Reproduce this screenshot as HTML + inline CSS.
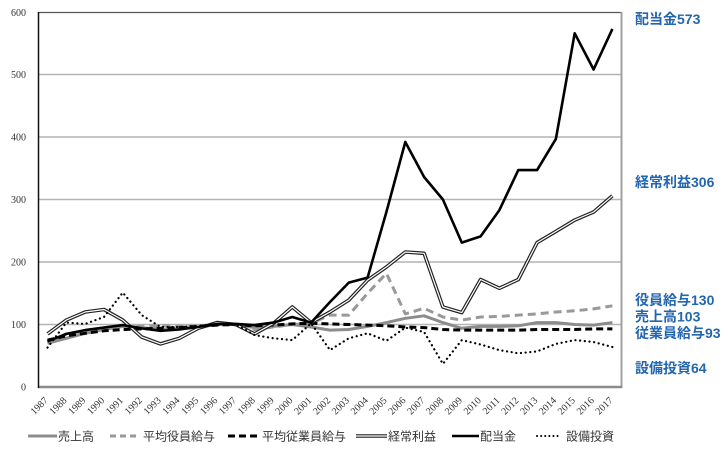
<!DOCTYPE html>
<html><head><meta charset="utf-8"><style>
html,body{margin:0;padding:0;background:#fff;}
svg{display:block;}
.yl{font-family:"Liberation Serif",serif;font-size:10px;fill:#333;}
.xl{font-family:"Liberation Serif",serif;font-size:10px;fill:#333;}
.lg{font-family:"Liberation Sans","Noto Sans CJK JP",sans-serif;font-size:12px;fill:#333;}
.rl{font-family:"Liberation Sans","Noto Sans CJK JP",sans-serif;font-size:14px;font-weight:bold;fill:#2366b0;}
</style></head><body>
<svg width="728" height="453" viewBox="0 0 728 453" xmlns="http://www.w3.org/2000/svg">
<rect width="728" height="453" fill="#fff"/>
<!-- gridlines -->
<g stroke="#b4b4b4" stroke-width="1.5">
<line x1="38.5" y1="324.5" x2="622" y2="324.5"/>
<line x1="38.5" y1="262" x2="622" y2="262"/>
<line x1="38.5" y1="199.5" x2="622" y2="199.5"/>
<line x1="38.5" y1="137" x2="622" y2="137"/>
<line x1="38.5" y1="74.5" x2="622" y2="74.5"/>
</g>
<!-- frame -->
<line x1="38.5" y1="12.5" x2="622" y2="12.5" stroke="#555" stroke-width="1.2"/>
<line x1="621.5" y1="12" x2="621.5" y2="388" stroke="#a0a0a0" stroke-width="2"/>
<line x1="38" y1="387" x2="622" y2="387" stroke="#8c8c8c" stroke-width="2.5"/>
<line x1="38.5" y1="12" x2="38.5" y2="388" stroke="#111" stroke-width="1.5"/>
<!-- y labels -->
<g class="yl" text-anchor="end">
<text x="26" y="16">600</text>
<text x="26" y="78">500</text>
<text x="26" y="140.5">400</text>
<text x="26" y="203">300</text>
<text x="26" y="265.5">200</text>
<text x="26" y="328">100</text>
<text x="26" y="390.5">0</text>
</g>
<!-- series -->
<g fill="none" stroke-linejoin="round">
<polyline stroke="#8c8c8c" stroke-width="3" points="47.5,343.3 66.3,338.3 85.2,333.3 104,329.5 122.8,326.4 141.7,327.6 160.5,329.5 179.3,328.9 198.1,327 217,324.5 235.8,324.5 254.6,327.6 273.5,326.4 292.3,324.5 311.1,327 330,330.1 348.8,329.5 367.6,326.4 386.4,322.6 405.3,318.3 424.1,315.8 442.9,322.6 461.8,328.3 480.6,326.4 499.4,326.4 518.3,325.8 537.1,322.6 555.9,322.6 574.7,324.5 593.6,325.1 612.4,322.6"/>
<polyline stroke="#999" stroke-width="3" stroke-dasharray="8,5" points="47.5,342 66.3,333.9 85.2,330.8 104,328.9 122.8,327 141.7,326.4 160.5,325.8 179.3,326.4 198.1,325.8 217,324.5 235.8,324.5 254.6,329.5 273.5,327 292.3,324.5 311.1,323.3 330,315.1 348.8,315.1 367.6,293.3 386.4,273.3 405.3,313.9 424.1,308.3 442.9,317 461.8,320.1 480.6,317 499.4,316.4 518.3,315.1 537.1,313.9 555.9,312 574.7,310.8 593.6,308.9 612.4,305.8"/>
<polyline stroke="#000" stroke-width="3" stroke-dasharray="7,4" points="47.5,340.1 66.3,335.8 85.2,333.3 104,330.8 122.8,329.5 141.7,328.9 160.5,328.3 179.3,327.6 198.1,326.4 217,325.1 235.8,324.5 254.6,325.8 273.5,325.1 292.3,323.9 311.1,323.3 330,323.9 348.8,324.5 367.6,325.1 386.4,325.8 405.3,327 424.1,327.6 442.9,329.5 461.8,330.1 480.6,330.1 499.4,330.1 518.3,330.1 537.1,329.5 555.9,329.5 574.7,329.5 593.6,328.9 612.4,328.9"/>
<polyline stroke="#222" stroke-width="3.6" points="47.5,333.9 66.3,320.1 85.2,312 104,309.5 122.8,320.1 141.7,337 160.5,343.9 179.3,338.3 198.1,328.3 217,322.6 235.8,324.5 254.6,333.9 273.5,323.3 292.3,307 311.1,322.6 330,312 348.8,300.1 367.6,280.1 386.4,267 405.3,252 424.1,253.3 442.9,307 461.8,312.6 480.6,279.5 499.4,288.3 518.3,279.5 537.1,242.6 555.9,231.4 574.7,220.1 593.6,212 612.4,195.8"/>
<polyline stroke="#fff" stroke-width="1.2" points="47.5,333.9 66.3,320.1 85.2,312 104,309.5 122.8,320.1 141.7,337 160.5,343.9 179.3,338.3 198.1,328.3 217,322.6 235.8,324.5 254.6,333.9 273.5,323.3 292.3,307 311.1,322.6 330,312 348.8,300.1 367.6,280.1 386.4,267 405.3,252 424.1,253.3 442.9,307 461.8,312.6 480.6,279.5 499.4,288.3 518.3,279.5 537.1,242.6 555.9,231.4 574.7,220.1 593.6,212 612.4,195.8"/>
<polyline stroke="#000" stroke-width="2.6" points="47.5,341.4 66.3,333.9 85.2,330.1 104,327.6 122.8,325.1 141.7,328.3 160.5,330.8 179.3,329.5 198.1,327 217,323.9 235.8,323.9 254.6,325.1 273.5,322.6 292.3,317 311.1,322.6 330,302 348.8,282.6 367.6,277.6 386.4,212 405.3,142 424.1,177 442.9,199.5 461.8,242.6 480.6,236.4 499.4,210.1 518.3,170.1 537.1,170.1 555.9,138.9 574.7,33.3 593.6,69.5 612.4,28.9"/>
<polyline stroke="#000" stroke-width="2.2" stroke-linecap="round" stroke-dasharray="0.1,4.6" points="47.5,347.6 66.3,322.6 85.2,323.9 104,317 122.8,292.6 141.7,315.1 160.5,327 179.3,327 198.1,325.8 217,324.5 235.8,324.5 254.6,335.1 273.5,338.3 292.3,340.1 311.1,323.3 330,350.1 348.8,338.3 367.6,333.3 386.4,340.8 405.3,327.6 424.1,332 442.9,363.9 461.8,340.1 480.6,344.5 499.4,350.1 518.3,353.3 537.1,351.4 555.9,343.9 574.7,340.1 593.6,342 612.4,347"/>
</g>
<!-- x labels -->
<g class="xl" text-anchor="end">
<text transform="translate(48.5,401) rotate(-45)">1987</text>
<text transform="translate(67.3,401) rotate(-45)">1988</text>
<text transform="translate(86.2,401) rotate(-45)">1989</text>
<text transform="translate(105,401) rotate(-45)">1990</text>
<text transform="translate(123.8,401) rotate(-45)">1991</text>
<text transform="translate(142.7,401) rotate(-45)">1992</text>
<text transform="translate(161.5,401) rotate(-45)">1993</text>
<text transform="translate(180.3,401) rotate(-45)">1994</text>
<text transform="translate(199.1,401) rotate(-45)">1995</text>
<text transform="translate(218,401) rotate(-45)">1996</text>
<text transform="translate(236.8,401) rotate(-45)">1997</text>
<text transform="translate(255.6,401) rotate(-45)">1998</text>
<text transform="translate(274.5,401) rotate(-45)">1999</text>
<text transform="translate(293.3,401) rotate(-45)">2000</text>
<text transform="translate(312.1,401) rotate(-45)">2001</text>
<text transform="translate(331,401) rotate(-45)">2002</text>
<text transform="translate(349.8,401) rotate(-45)">2003</text>
<text transform="translate(368.6,401) rotate(-45)">2004</text>
<text transform="translate(387.4,401) rotate(-45)">2005</text>
<text transform="translate(406.3,401) rotate(-45)">2006</text>
<text transform="translate(425.1,401) rotate(-45)">2007</text>
<text transform="translate(443.9,401) rotate(-45)">2008</text>
<text transform="translate(462.8,401) rotate(-45)">2009</text>
<text transform="translate(481.6,401) rotate(-45)">2010</text>
<text transform="translate(500.4,401) rotate(-45)">2011</text>
<text transform="translate(519.3,401) rotate(-45)">2012</text>
<text transform="translate(538.1,401) rotate(-45)">2013</text>
<text transform="translate(556.9,401) rotate(-45)">2014</text>
<text transform="translate(575.7,401) rotate(-45)">2015</text>
<text transform="translate(594.6,401) rotate(-45)">2016</text>
<text transform="translate(613.4,401) rotate(-45)">2017</text>
</g>
<!-- legend -->
<g fill="none">
<line x1="28" y1="436" x2="57" y2="436" stroke="#8c8c8c" stroke-width="3"/>
<line x1="110" y1="436" x2="138" y2="436" stroke="#999" stroke-width="3" stroke-dasharray="6,4"/>
<line x1="228" y1="436" x2="260" y2="436" stroke="#000" stroke-width="3" stroke-dasharray="7,4"/>
<line x1="356" y1="436" x2="387" y2="436" stroke="#222" stroke-width="3.6"/>
<line x1="356" y1="436" x2="387" y2="436" stroke="#fff" stroke-width="1.2"/>
<line x1="452" y1="436" x2="479" y2="436" stroke="#000" stroke-width="2.6"/>
<line x1="537" y1="436" x2="558" y2="436" stroke="#000" stroke-width="2" stroke-linecap="round" stroke-dasharray="0.1,4"/>
</g>
<g class="lg">
<text x="58" y="440.5">売上高</text>
<text x="143" y="440.5">平均役員給与</text>
<text x="262" y="440.5">平均従業員給与</text>
<text x="388" y="440.5">経常利益</text>
<text x="480" y="440.5">配当金</text>
<text x="566" y="440.5">設備投資</text>
</g>
<!-- right labels -->
<g class="rl">
<text x="635" y="24">配当金573</text>
<text x="635" y="187">経常利益306</text>
<text x="635" y="305">役員給与130</text>
<text x="635" y="321.5">売上高103</text>
<text x="635" y="338">従業員給与93</text>
<text x="635" y="373">設備投資64</text>
</g>
</svg>
</body></html>
